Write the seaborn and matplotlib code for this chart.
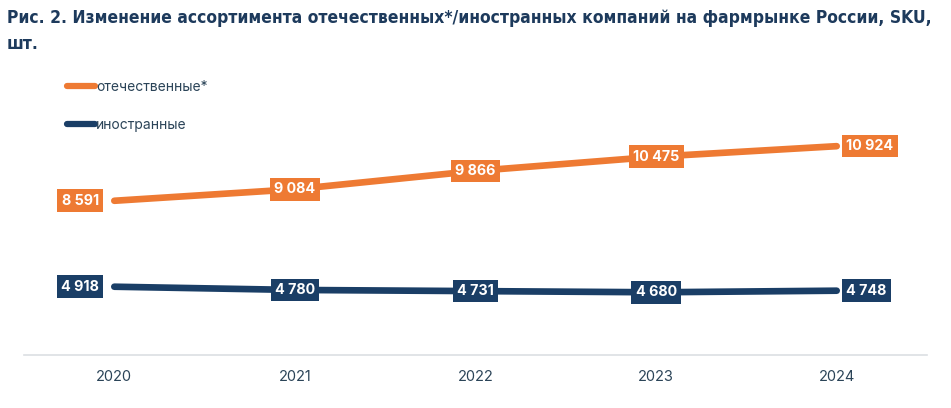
import matplotlib
matplotlib.use("Agg")
import matplotlib.pyplot as plt
import seaborn as sns
import pandas as pd

years = ["2020", "2021", "2022", "2023", "2024"]
domestic = [8591, 9084, 9866, 10475, 10924]
foreign = [4918, 4780, 4731, 4680, 4748]
series_names = ["отечественные*", "иностранные"]
title_text = ("Рис. 2. Изменение ассортимента отечественных*/иностранных компаний на фармрынке России, SKU,\nшт.")

ORANGE = "#EE7A33"
NAVY = "#1A3E66"
TEXT = "#2B4458"
TITLE_FAMILY = ["DejaVu Sans"]

df = pd.DataFrame({
    "year": years * 2,
    "value": domestic + foreign,
    "series": [series_names[0]] * len(years) + [series_names[1]] * len(years),
})

sns.set_theme(style="white")
plt.rcParams["font.family"] = ["Inter", "DejaVu Sans"]

fig = plt.figure(figsize=(9.51, 4.08), dpi=100)
ax = fig.add_axes([24 / 951, 1 - 355 / 408, (927 - 24) / 951, 234 / 408])

sns.lineplot(data=df, x="year", y="value", hue="series", sort=False,
             palette=[ORANGE, NAVY], linewidth=4.8, ax=ax, legend=True,
             solid_capstyle="round")

ax.set_xlim(-0.5, 4.5)
ax.set_ylim(2000, 12000)
ax.set_xlabel("")
ax.set_ylabel("")
ax.set_yticks([])
for s in ["top", "left", "right"]:
    ax.spines[s].set_visible(False)
ax.spines["bottom"].set_color("#DCDFE3")
ax.spines["bottom"].set_linewidth(1.2)
ax.tick_params(axis="x", length=0, pad=11, labelsize=10.5, labelcolor=TEXT)


def fmt(v):
    return f"{v:,}".replace(",", " ")


for vals, color in [(domestic, ORANGE), (foreign, NAVY)]:
    n = len(vals)
    for i, v in enumerate(vals):
        if i == 0:
            off, ha = (-11, 0), "right"
        elif i == n - 1:
            off, ha = (7, 0), "left"
        else:
            off, ha = (0, 0), "center"
        ax.annotate(fmt(v), xy=(i, v), xytext=off, textcoords="offset points",
                    ha=ha, va="center", color="white", fontsize=10.3,
                    fontweight="bold",
                    bbox=dict(boxstyle="square,pad=0.3", fc=color, ec="none"))

handles, labels = ax.get_legend_handles_labels()
if ax.get_legend():
    ax.get_legend().remove()
leg = fig.legend(handles, labels, loc="upper left",
                 bbox_to_anchor=(67 / 951, 1 - 80 / 408), frameon=False,
                 fontsize=10, handlelength=2.0, handletextpad=0.1,
                 labelspacing=1.75, borderaxespad=0, borderpad=0)
for t in leg.get_texts():
    t.set_color(TEXT)
for l in leg.get_lines():
    l.set_linewidth(4.5)

title = fig.text(7 / 951, 1 - 9 / 408, title_text, ha="left", va="top",
                 fontsize=16, fontweight="bold", color="#1D3A5C",
                 family=TITLE_FAMILY, fontstretch="condensed",
                 linespacing=1.55)
fig.canvas.draw()
r = fig.canvas.get_renderer()
first = fig.text(0, 0, title_text.split("\n")[0], fontsize=16, fontweight="bold",
                 family=TITLE_FAMILY, fontstretch="condensed")
w = first.get_window_extent(r).width
first.remove()
title.set_fontsize(16 * 921 / w)

fig.savefig("out.png", dpi=100)
